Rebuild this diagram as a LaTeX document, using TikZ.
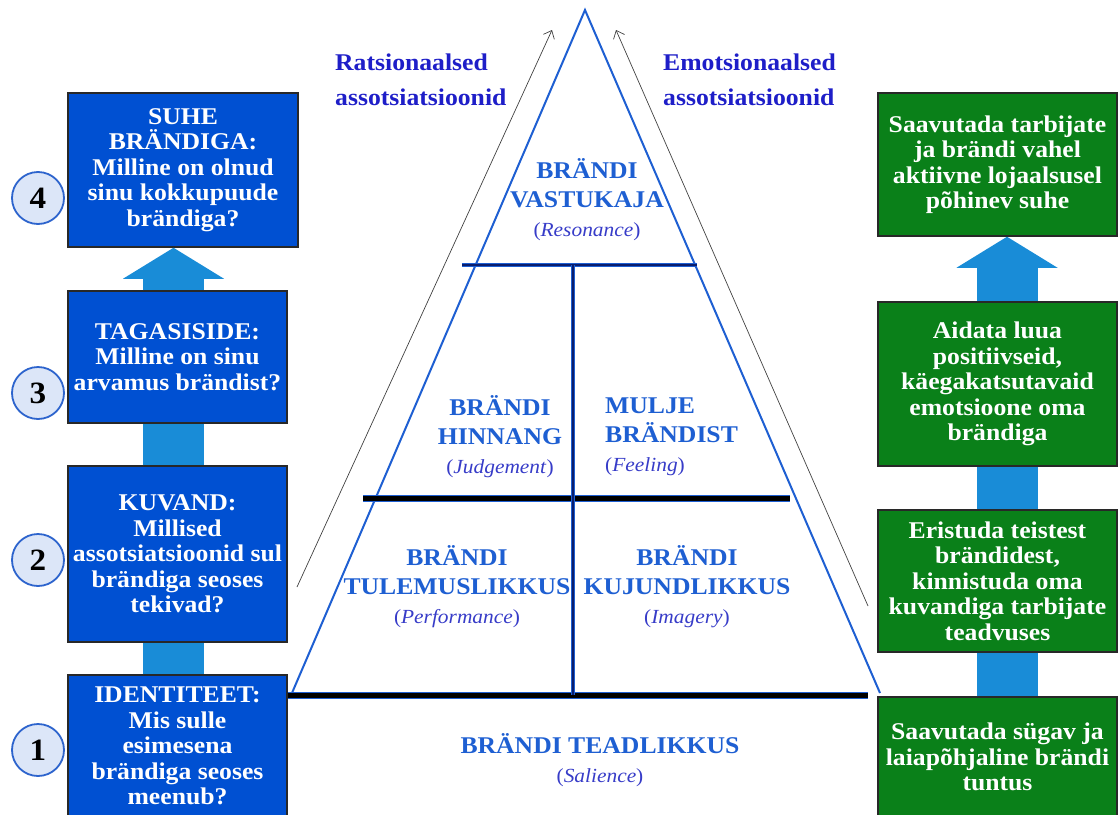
\documentclass[tikz,border=0pt]{standalone}
\usepackage{fontspec}
\setmainfont{Liberation Serif}[FakeStretch=1.07]
\usetikzlibrary{shapes,arrows.meta,positioning,calc}

\definecolor{boxblue}{RGB}{0,80,210}
\definecolor{boxgreen}{RGB}{10,128,25}
\definecolor{boxedge}{RGB}{40,40,40}
\definecolor{arrowblue}{RGB}{25,140,215}
\definecolor{pyrblue}{RGB}{30,95,210}
\definecolor{navyline}{RGB}{10,30,110}
\definecolor{labelblue}{RGB}{30,30,200}
\definecolor{parenblue}{RGB}{55,60,200}
\definecolor{circfill}{RGB}{220,230,248}
\definecolor{circline}{RGB}{45,100,205}

\tikzstyle{leftblock} = [rectangle, draw=boxedge, line width=1.5pt, fill=boxblue,
text=white, align=center, inner sep=2pt, font=\bfseries\fontsize{24}{25.5}\selectfont]
\tikzstyle{rightblock} = [leftblock, fill=boxgreen]
\tikzstyle{nummer} = [circle, draw=circline, line width=1.8pt, fill=circfill,
minimum size=52pt, inner sep=0pt, font=\bfseries\fontsize{31}{31}\selectfont]
\tikzstyle{pyrtext} = [text=pyrblue, align=center, inner sep=0pt,
font=\bfseries\fontsize{24}{29}\selectfont]
\tikzstyle{assoc} = [text=labelblue, align=left, inner sep=0pt,
font=\bfseries\fontsize{24}{35}\selectfont]
\tikzstyle{shaft} = [draw=arrowblue, line width=61pt]
\tikzstyle{headshaft} = [shaft, -{Triangle[length=31pt 0, width=101pt 0, line width=0pt 0]}]
\tikzstyle{pijl} = [draw=black!75, line width=0.7pt, -{Straight Barb[length=7pt,width=12pt]}]
\tikzstyle{pyrline} = [draw=pyrblue, line width=2pt]
\tikzstyle{innerline} = [draw=navyline, line width=2.5pt, preaction={draw=pyrblue, line width=3.5pt}]
\tikzstyle{floorline} = [draw=black, line width=5pt, preaction={draw=pyrblue, line width=7pt}]

\newcommand{\engterm}[1]{{\fontsize{20}{29}\selectfont\mdseries\color{parenblue}(\textit{#1})}}

\begin{document}
\begin{tikzpicture}[x=1pt, y=-1pt]
	\useasboundingbox (0,0) rectangle (1119,814);
	
	\coordinate (apex) at (585,10);
	\coordinate (baseleft) at (292,693);
	\coordinate (baseright) at (880,693);
	\coordinate (lshaft) at (173.5,0);
	\coordinate (rshaft) at (1007,0);
	\coordinate (ratlow) at (297,587);
	\coordinate (rathigh) at (552,30);
	\coordinate (emolow) at (868,606);
	\coordinate (emohigh) at (616,30);
	
	
	\path [pyrline] (baseleft)--(apex)--(baseright);
	\path [innerline] (462,265)--(697,265);
	\path [floorline] (363,498)--(790,498);
	\path [floorline] (288,695)--(868,695);
	\path [innerline] (573,265)--(573,695);
	
	
	\node [pyrtext] (resonance) at (587,200) {BRÄNDI\\ VASTUKAJA\\ \engterm{Resonance}};
	\node [pyrtext] (judgement) at (500,437) {BRÄNDI\\ HINNANG\\ \engterm{Judgement}};
	\node [pyrtext, align=left, anchor=west] (feeling) at (605,437) {MULJE\\ BRÄNDIST\\ \engterm{Feeling}};
	\node [pyrtext] (performance) at (457,587) {BRÄNDI\\ TULEMUSLIKKUS\\ \engterm{Performance}};
	\node [pyrtext] (imagery) at (687,587) {BRÄNDI\\ KUJUNDLIKKUS\\ \engterm{Imagery}};
	\node [pyrtext] (salience) at (600,760) {BRÄNDI TEADLIKKUS\\ \engterm{Salience}};
	
	\node [assoc, anchor=west] (rational) at (335,80) {Ratsionaalsed\\ assotsiatsioonid};
	\node [assoc, anchor=west] (emotional) at (663,80) {Emotsionaalsed\\ assotsiatsioonid};
	
	\path [pijl] (ratlow)--(rathigh);
	\path [pijl] (emolow)--(emohigh);
	
	
	\node [leftblock, minimum width=230pt, minimum height=154pt] (relation) at (183,170) {SUHE\\ BRÄNDIGA:\\ Milline on olnud\\ sinu kokkupuude\\ brändiga?};
	\node [leftblock, minimum width=219pt, minimum height=132pt] (feedback) at (177.5,357) {TAGASISIDE:\\ Milline on sinu\\ arvamus brändist?};
	\node [leftblock, minimum width=219pt, minimum height=176pt] (image) at (177.5,554) {KUVAND:\\ Millised\\ assotsiatsioonid sul\\ brändiga seoses\\ tekivad?};
	\node [leftblock, minimum width=219pt, minimum height=142pt] (identity) at (177.5,746) {IDENTITEET:\\ Mis sulle\\ esimesena\\ brändiga seoses\\ meenub?};
	
	\path [headshaft] (feedback.north -| lshaft)--(relation.south -| lshaft);
	\path [shaft] (image.north -| lshaft)--(feedback.south -| lshaft);
	\path [shaft] (identity.north -| lshaft)--(image.south -| lshaft);
	
	\node [nummer] (step4) at (38,198) {4};
	\node [nummer] (step3) at (38,393) {3};
	\node [nummer] (step2) at (38,560) {2};
	\node [nummer] (step1) at (38,750) {1};
	
	
	\node [rightblock, minimum width=239pt, minimum height=143pt] (loyalty) at (997.5,164.5) {Saavutada tarbijate\\ ja brändi vahel\\ aktiivne lojaalsusel\\ põhinev suhe};
	\node [rightblock, minimum width=239pt, minimum height=164pt] (emotions) at (997.5,384) {Aidata luua\\ positiivseid,\\ käegakatsutavaid\\ emotsioone oma\\ brändiga};
	\node [rightblock, minimum width=239pt, minimum height=142pt] (distinct) at (997.5,581) {Eristuda teistest\\ brändidest,\\ kinnistuda oma\\ kuvandiga tarbijate\\ teadvuses};
	\node [rightblock, minimum width=239pt, minimum height=120pt] (awareness) at (997.5,757) {Saavutada sügav ja\\ laiapõhjaline brändi\\ tuntus};
	
	\path [headshaft] (emotions.north -| rshaft)--(loyalty.south -| rshaft);
	\path [shaft] (distinct.north -| rshaft)--(emotions.south -| rshaft);
	\path [shaft] (awareness.north -| rshaft)--(distinct.south -| rshaft);
\end{tikzpicture}
\end{document}
